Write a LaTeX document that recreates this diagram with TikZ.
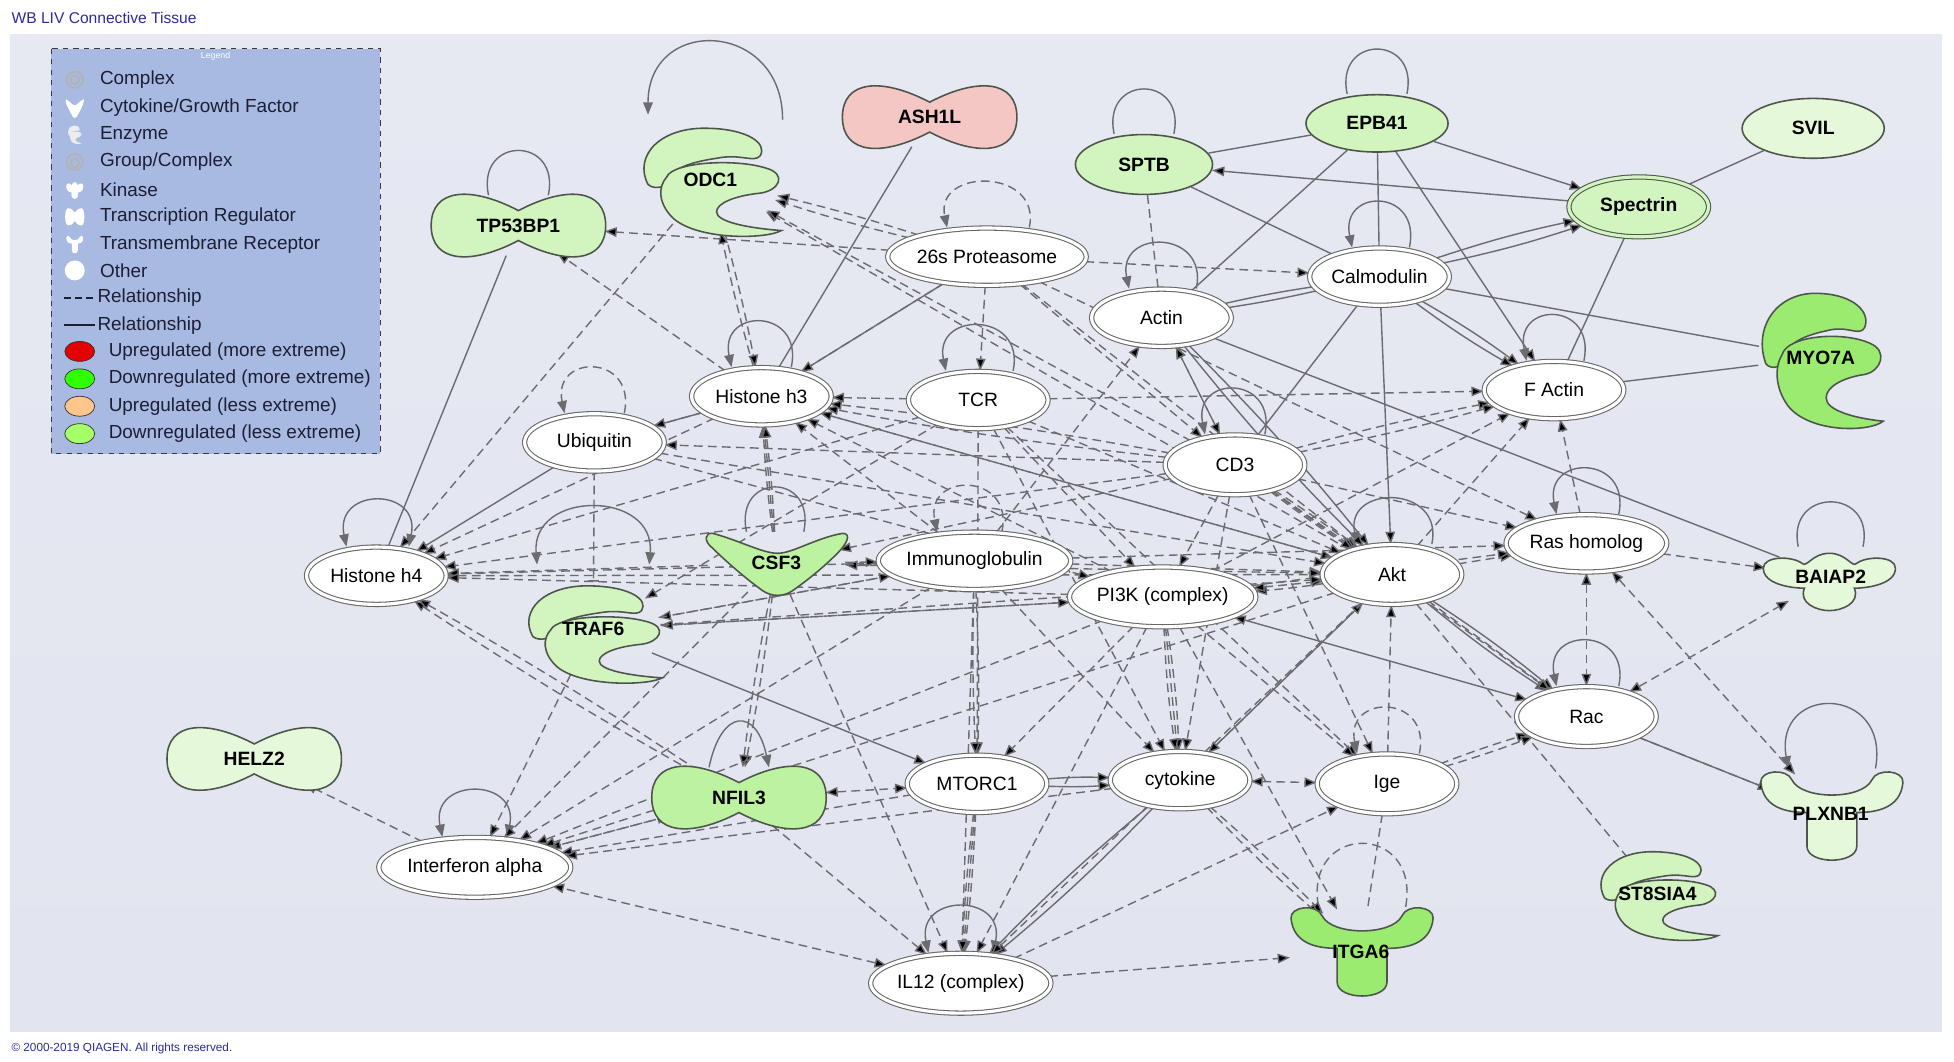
\documentclass[tikz,border=0pt]{standalone}
\usepackage{fontspec}
\setmainfont{Liberation Sans}
\usepackage{tikz}
\usetikzlibrary{shapes.geometric}
\usetikzlibrary{arrows.meta}
\usetikzlibrary{calc}

\definecolor{bgtop}{HTML}{E6E8F2}
\definecolor{bgmid}{HTML}{D3D8E8}
\definecolor{bgbot}{HTML}{E2E4EF}
\definecolor{edgegray}{HTML}{6C6C70}
\definecolor{outl}{HTML}{4E564C}
\definecolor{pinkup}{HTML}{F4C7C4}
\definecolor{lgreen}{HTML}{D2F4BF}
\definecolor{vlgreen}{HTML}{E5F9DA}
\definecolor{mgreen}{HTML}{BDF2A0}
\definecolor{bgreen}{HTML}{9BEB70}
\definecolor{legbg}{HTML}{A8BAE1}
\definecolor{legtext}{HTML}{1C1E36}
\definecolor{titleblue}{HTML}{2B2BA0}

\pgfdeclarelayer{back}
\pgfdeclarelayer{links}
\pgfsetlayers{back,links,main}

\tikzset{
  peanut/.pic={\path[pic actions] (-70,0) .. controls (-70,-30) and (-38,-32) .. (0,-12) .. controls (38,-32) and (70,-30) .. (70,0) .. controls (70,30) and (38,32) .. (0,12) .. controls (-38,32) and (-70,30) .. (-70,0) -- cycle;},
  enzyme/.pic={\path[pic actions] (-50,3) .. controls (-62,-20) and (-40,-44) .. (0,-42) .. controls (30,-41) and (46,-30) .. (40,-20) .. controls (35,-14) and (25,-22) .. (5,-18) .. controls (-15,-15) and (-30,-10) .. (-30,-3) .. controls (-32,5) and (-45,8) .. (-50,3) -- cycle;
    \path[pic actions] (-35,-3) .. controls (-30,-15) and (20,-18) .. (45,-10) .. controls (62,-5) and (55,8) .. (40,10) .. controls (20,12) and (5,18) .. (5,25) .. controls (5,33) and (30,38) .. (57,40) .. controls (45,47) and (-10,48) .. (-30,30) .. controls (-42,18) and (-42,5) .. (-35,-3) -- cycle;},
  cytok/.pic={\path[pic actions] (-52,-24) .. controls (-30,-18) and (-12,-8) .. (0,-8) .. controls (12,-8) and (30,-20) .. (52,-24) .. controls (60,-24) and (55,-15) .. (48,-8) .. controls (35,5) and (22,15) .. (12,22) .. controls (5,27) and (-5,27) .. (-12,22) .. controls (-22,15) and (-40,0) .. (-52,-12) .. controls (-60,-18) and (-58,-25) .. (-52,-24) -- cycle;},
  kinase/.pic={\path[pic actions] (-53,-8) .. controls (-53,-18) and (-30,-18) .. (-22,-12) .. controls (-18,-8) and (-14,-20) .. (0,-20) .. controls (14,-20) and (18,-8) .. (22,-12) .. controls (30,-18) and (53,-18) .. (53,-8) .. controls (53,5) and (30,8) .. (20,8) .. controls (25,20) and (10,26) .. (0,26) .. controls (-10,26) and (-25,20) .. (-20,8) .. controls (-30,8) and (-53,5) .. (-53,-8) -- cycle;},
  receptor/.pic={\path[pic actions] (-57,-26) .. controls (-58,-36) and (-36,-38) .. (-32,-28) .. controls (-24,-12) and (24,-12) .. (32,-28) .. controls (36,-38) and (58,-36) .. (57,-26) .. controls (55,-5) and (35,-2) .. (20,-2) -- (20,25) .. controls (20,40) and (-20,40) .. (-20,25) -- (-20,-2) .. controls (-35,-2) and (-55,-5) .. (-57,-26) -- cycle;},
}

\begin{document}
\begin{tikzpicture}[x=0.025cm, y=-0.025cm,
  every node/.style={font=\fontsize{11}{13}\selectfont},
  other/.style={ellipse, draw=gray!80!black, double=white, double distance=1.8pt, line width=0.6pt, fill=white, minimum width=2.8cm, minimum height=1.15cm, inner sep=0pt},
  gene/.style={ellipse, inner sep=0pt, font=\fontsize{11}{13}\selectfont\bfseries},
  plain/.style={ellipse, draw=outl, line width=0.9pt, inner sep=0pt, minimum width=2.8cm, minimum height=1.2cm, font=\fontsize{11}{13}\selectfont\bfseries},
  gshape/.style={draw=outl, line width=0.9pt},
  legitem/.style={anchor=west, inner sep=0pt, text=legtext, font=\fontsize{10.8}{12}\selectfont},
  rel/.style={draw=edgegray, line width=0.8pt},
  dsh/.style={rel, dash pattern=on 5pt off 3pt},
  tip/.style={-{Triangle[length=7pt,width=5.5pt]}},
  tips/.style={{Triangle[length=7pt,width=5.5pt]}-{Triangle[length=7pt,width=5.5pt]}},
  loopy/.style={to path={.. controls +(10,-48) and +(-10,-48) .. (\tikztotarget)}},
  bigloop/.style={to path={.. controls +(12,-68) and +(-12,-68) .. (\tikztotarget)}},
  ]
\useasboundingbox (0,0) rectangle (1568,852);
\begin{pgfonlayer}{back}
  \fill[white] (0,0) rectangle (1568,852);
  \shade[top color=bgtop, middle color=bgmid, bottom color=bgbot] (8,28) rectangle (1558,828);
\end{pgfonlayer}
\node[anchor=west, inner sep=0pt, text=titleblue, font=\fontsize{8.9}{10}\selectfont] (title) at (9,14) {WB LIV Connective Tissue};
\node[anchor=west, inner sep=0pt, text=titleblue, font=\fontsize{6.7}{8}\selectfont] (copy) at (9,841) {\textcopyright{} 2000-2019 QIAGEN. All rights reserved.};
%%%%%%%%%%%%%%% legend
\draw[dashed, draw=gray!45!black, fill=legbg] (41,39) rectangle (305,364);
\node[text=white, font=\fontsize{5}{6}\selectfont] (legtitle) at (173,45) {Legend};
\draw[gray!60, line width=1pt] (60,64) circle (6.5) (60,64) circle (3.5);
\pic[fill=white, xscale=.13, yscale=.3] at (60,87) {cytok};
\pic[fill=white!85!gray, xscale=.1, yscale=.17] at (60,108) {enzyme};
\draw[gray!60, line width=1pt] (60,130) circle (6.5) (60,131) circle (3.5);
\pic[fill=white, xscale=.13, yscale=.3] at (60,152) {kinase};
\pic[fill=white, xscale=.11, yscale=.28] at (60,174) {peanut};
\pic[fill=white, xscale=.12, yscale=.2] at (60,196) {receptor};
\fill[white] (60,217) circle (8);
\draw[legtext, line width=1pt, dash pattern=on 4pt off 2.5pt] (51,239) -- (76,239);
\draw[legtext, line width=1pt] (51,261) -- (76,261);
\draw[gray!40!black, fill=red!90!black] (64,282) ellipse (12 and 8);
\draw[gray!40!black, fill=green!75!lime] (64,304) ellipse (12 and 8);
\draw[gray!40!black, fill=orange!45] (64,326) ellipse (12 and 8);
\draw[gray!40!black, fill=green!45!lime!60] (64,348) ellipse (12 and 8);
\node[legitem] (lcomplex) at (80,64) {Complex};
\node[legitem] (lcyto) at (80,86) {Cytokine/Growth Factor};
\node[legitem] (lenz) at (80,108) {Enzyme};
\node[legitem] (lgroup) at (80,130) {Group/Complex};
\node[legitem] (lkin) at (80,152) {Kinase};
\node[legitem] (ltr) at (80,174) {Transcription Regulator};
\node[legitem] (ltm) at (80,196) {Transmembrane Receptor};
\node[legitem] (lother) at (80,217) {Other};
\node[legitem] (ldash) at (78,239) {Relationship};
\node[legitem] (lsolid) at (78,261) {Relationship};
\node[legitem] (lupm) at (87,282) {Upregulated (more extreme)};
\node[legitem] (ldownm) at (87,304) {Downregulated (more extreme)};
\node[legitem] (lupl) at (87,326) {Upregulated (less extreme)};
\node[legitem] (ldownl) at (87,348) {Downregulated (less extreme)};
%%%%%%%%%%%%%%% shaped molecules
\pic[gshape, fill=lgreen] at (416,181) {peanut};
\pic[gshape, fill=pinkup] at (746,94) {peanut};
\pic[gshape, fill=vlgreen] at (204,609) {peanut};
\pic[gshape, fill=mgreen] at (593,640) {peanut};
\pic[gshape, fill=lgreen] at (570,145) {enzyme};
\pic[gshape, fill=lgreen, xscale=.97, yscale=.9] at (476,508) {enzyme};
\pic[gshape, fill=bgreen, xscale=.88, yscale=1.25] at (1461,288) {enzyme};
\pic[gshape, fill=lgreen, xscale=.85, yscale=.82] at (1330,718) {enzyme};
\pic[gshape, fill=mgreen] at (624,452) {cytok};
\pic[gshape, fill=vlgreen] at (1468,464) {kinase};
\pic[gshape, fill=vlgreen] at (1470,654) {receptor};
\pic[gshape, fill=bgreen] at (1093,763) {receptor};
%%%%%%%%%%%%%%% nodes
\node[gene, minimum width=3.5cm, minimum height=1.2cm] (tp) at (416,181) {TP53BP1};
\node[gene, minimum width=3.5cm, minimum height=1.2cm] (ash) at (746,94) {ASH1L};
\node[gene, minimum width=3.5cm, minimum height=1.2cm] (helz) at (204,609) {HELZ2};
\node[gene, minimum width=3.5cm, minimum height=1.2cm] (nfil) at (593,640) {NFIL3};
\node[gene, minimum width=2.8cm, minimum height=2.1cm] (odc) at (570,144) {ODC1};
\node[gene, minimum width=2.7cm, minimum height=1.9cm] (traf) at (476,505) {TRAF6};
\node[gene, minimum width=2.5cm, minimum height=2.6cm] (myo) at (1461,287) {MYO7A};
\node[gene, minimum width=2.4cm, minimum height=1.75cm] (st) at (1330,717) {ST8SIA4};
\node[gene, minimum width=2.75cm, minimum height=1.25cm] (csf) at (623,452) {CSF3};
\node[gene, minimum width=2.7cm, minimum height=1.2cm] (baiap) at (1469,463) {BAIAP2};
\node[gene, minimum width=2.85cm, minimum height=1.8cm] (plx) at (1469,653) {PLXNB1};
\node[gene, minimum width=2.85cm, minimum height=1.8cm] (itga) at (1092,764) {ITGA6};
\node[plain, fill=lgreen, minimum width=2.75cm] (sptb) at (918,132) {SPTB};
\node[plain, fill=lgreen, minimum width=2.85cm, minimum height=1.15cm] (epb) at (1105,99) {EPB41};
\node[plain, fill=vlgreen, minimum width=2.85cm] (svil) at (1455,103) {SVIL};
\node[other, draw=outl, double=lgreen, fill=lgreen, minimum height=1.2cm, font=\fontsize{11}{13}\selectfont\bfseries] (spec) at (1315,166) {Spectrin};
\node[other, minimum width=3.9cm] (prot) at (792,206) {26s Proteasome};
\node[other] (calm) at (1107,222) {Calmodulin};
\node[other] (actin) at (932,255) {Actin};
\node[other] (hthree) at (611,318) {Histone h3};
\node[other] (tcr) at (785,321) {TCR};
\node[other] (factin) at (1247,313) {F Actin};
\node[other] (ubq) at (477,355) {Ubiquitin};
\node[other, minimum height=1.2cm] (cdthree) at (991,373) {CD3};
\node[other] (hfour) at (302,462) {Histone h4};
\node[other, minimum width=3.4cm] (ig) at (782,450) {Immunoglobulin};
\node[other, minimum width=3.45cm, minimum height=1.2cm] (pik) at (933,479) {PI3K (complex)};
\node[other, minimum height=1.2cm] (akt) at (1117,461) {Akt};
\node[other] (ras) at (1273,436) {Ras homolog};
\node[other, minimum height=1.2cm] (rac) at (1273,575) {Rac};
\node[other] (mtor) at (784,629) {MTORC1};
\node[other] (cyto) at (947,626) {cytokine};
\node[other, minimum height=1.2cm] (ige) at (1113,629) {Ige};
\node[other, minimum width=3.85cm, minimum height=1.2cm] (ifn) at (381,696) {Interferon alpha};
\node[other, minimum width=3.6cm, minimum height=1.2cm] (il) at (771,789) {IL12 (complex)};
%%%%%%%%%%%%%%% links
\begin{pgfonlayer}{links}
% self loops
\draw[rel] ([xshift=.6cm]tp.north) to[loopy] ([xshift=-.6cm]tp.north);
\draw[rel] ([xshift=.6cm]sptb.north) to[loopy] ([xshift=-.6cm]sptb.north);
\draw[rel] ([xshift=.6cm]epb.north) to[loopy] ([xshift=-.6cm]epb.north);
\draw[rel] ([xshift=.65cm]baiap.north) to[loopy] ([xshift=-.65cm]baiap.north);
\draw[rel,tip] ($(odc)+(58,-48)$) .. controls +(0,-80) and +(0,-80) .. ($(odc)+(-50,-52)$);
\draw[dsh,tip] ([xshift=.85cm]prot.north) to[loopy] ([xshift=-.8cm]prot.north);
\draw[rel,tip] ([xshift=.6cm]hthree.north) to[loopy] ([xshift=-.6cm]hthree.north);
\draw[rel,tip] ([xshift=.7cm]tcr.north) to[loopy] ([xshift=-.65cm]tcr.north);
\draw[rel,tip] ([xshift=.7cm]actin.north) to[loopy] ([xshift=-.65cm]actin.north);
\draw[rel,tip] ([xshift=.6cm]calm.north) to[loopy] ([xshift=-.55cm]calm.north);
\draw[rel,tip] ([xshift=.6cm]cdthree.north) to[loopy] ([xshift=-.6cm]cdthree.north);
\draw[rel,tip] ([xshift=.6cm]factin.north) to[loopy] ([xshift=-.55cm]factin.north);
\draw[dsh,tip] ([xshift=.6cm]ubq.north) to[loopy] ([xshift=-.6cm]ubq.north);
\draw[dsh,tip] ([xshift=.55cm]ig.north) to[loopy] ([xshift=-.75cm]ig.north);
\draw[rel,tip] ([xshift=.8cm]akt.north) to[loopy] ([xshift=-.7cm]akt.north);
\draw[rel,tip] ([xshift=.65cm]ras.north) to[loopy] ([xshift=-.6cm]ras.north);
\draw[rel,tip] ([xshift=.65cm]rac.north) to[loopy] ([xshift=-.6cm]rac.north);
\draw[rel,tips] ([xshift=.65cm]hfour.north) to[loopy] ([xshift=-.6cm]hfour.north);
\draw[rel] ([xshift=.55cm]csf.north) to[loopy] ([xshift=-.6cm]csf.north);
\draw[rel,tip] ([xshift=-.6cm]nfil.north) to[loopy] ([xshift=.6cm]nfil.north);
\draw[rel,tips] ([xshift=.65cm]ifn.north) to[loopy] ([xshift=-.65cm]ifn.north);
\draw[rel,tips] ([xshift=.65cm]il.north) to[loopy] ([xshift=-.65cm]il.north);
\draw[dsh,tip] ([xshift=.65cm]ige.north) to[loopy] ([xshift=-.6cm]ige.north);
\draw[dsh] ([xshift=.9cm]itga.north) to[bigloop] ([xshift=-.85cm]itga.north);
\draw[rel,tip] ([xshift=.9cm]plx.north) to[bigloop] ([xshift=-.85cm]plx.north);
\draw[rel,tips] ($(traf)+(45,-52)$) .. controls +(5,-60) and +(-5,-60) .. ($(traf)+(-45,-52)$);
% solid relationships
\path[rel] (epb) edge (sptb) edge (actin) edge (calm) (svil) edge (spec) (sptb) edge (calm);
\path[rel,tip] (epb) edge (spec) edge (factin) (spec) edge (sptb);
\path[rel,tip] (calm) edge[bend left=3] (spec) edge[bend right=3] (spec) edge[bend left=3] (factin) edge[bend right=3] (factin) edge (akt);
\path[rel] (calm) edge[bend left=2] (actin) edge[bend right=2] (actin) edge (myo) edge (cdthree);
\path[rel] (spec) edge (factin) (factin) edge (myo) (actin) edge (baiap);
\path[rel,tip] (actin) edge[bend left=3] (akt) edge[bend right=3] (akt);
\path[rel] (ash) edge (hthree) (tp) edge (hfour) (hthree) edge (ubq) (prot) edge (hthree);
\path[rel,tip] (ubq) edge (hfour) (traf) edge (mtor) (akt) edge[bend left=3] (rac) edge[bend right=3] (rac) (rac) edge (plx);
\path[rel,tip] (cyto) edge (akt) edge[bend left=3] (il) edge[bend right=3] (il) (mtor) edge[bend left=3] (cyto) edge[bend right=3] (cyto);
\path[rel,tips] (pik) edge (rac);
% dashed relationships
\path[dsh,tip] (prot) edge (tp) edge[bend left=2] (odc) edge[bend right=2] (odc) edge (calm) edge (hthree) edge (tcr) edge (cdthree) edge (akt) edge (ras);
\path[dsh,tip] (odc) edge (hfour) edge[bend left=2] (hthree) (hthree) edge[bend left=2] (odc) edge (tp) edge (ubq) edge (hfour) edge (akt);
\path[dsh,tip] (akt) edge (odc) edge (hthree) edge (hfour) edge (factin) edge (ras) edge[bend left=2] (pik) edge (cyto) edge (il) edge (ifn) edge (rac);
\path[dsh] (akt) edge (st) (sptb) edge (actin) (ige) edge (itga);
\path[dsh,tip] (cdthree) edge (odc) edge[bend left=2] (hthree) edge[bend right=2] (hthree) edge (ubq) edge (hfour) edge[bend left=2] (factin) edge[bend right=2] (factin) edge (actin) edge (ras) edge (rac);
\path[dsh,tip] (cdthree) edge[bend left=2] (akt) edge (akt) edge[bend right=2] (akt) edge (cyto) edge (ige) edge (pik) edge (csf);
\path[dsh,tips] (actin) edge (cdthree);
\path[dsh,tip] (tcr) edge (hthree) edge (hfour) edge (factin) edge (akt) edge (cyto) edge (ige) edge (mtor) edge (traf) edge (pik);
\path[dsh,tip] (ubq) edge (akt) edge (pik);
\path[dsh,-{Bar[width=6pt]}] (ubq) edge (traf);
\path[dsh,tip] (ig) edge (hthree) edge (hfour) edge (actin) edge (ras) edge (akt) edge (cyto) edge[bend left=2] (mtor) edge[bend right=2] (mtor) edge (il) edge (ifn) edge (traf) edge[bend left=2] (csf);
\path[dsh,tip] (csf) edge (ig) edge[bend left=2] (hthree) edge (hthree) edge[bend right=2] (hthree) edge (hfour) edge[bend left=2] (nfil) edge[bend right=2] (nfil) edge (il) edge (ifn) edge (akt);
\path[dsh,tip] (pik) edge (hthree) edge (hfour) edge (factin) edge (traf) edge (ras) edge (cyto) edge[bend left=3] (cyto) edge[bend right=3] (cyto) edge (ige) edge (mtor) edge (il) edge (itga) edge (ifn);
\path[dsh,tips] (pik) edge (akt);
\path[dsh,tip] (traf) edge (ig) edge (pik) edge (akt) edge (ifn);
\path[dsh,tip] (nfil) edge[bend left=2] (hfour) edge[bend right=2] (hfour) edge (il) edge (ifn);
\path[dsh,tips] (nfil) edge (mtor);
\path[dsh,tip] (mtor) edge[bend left=2] (il) edge (il) edge[bend right=2] (il) edge (ifn);
\path[dsh,tip] (cyto) edge (ifn) edge[bend left=2] (itga) edge[bend right=2] (itga);
\path[dsh,tips] (cyto) edge (ige) (il) edge (ifn) (ras) edge (rac) (rac) edge (baiap) (ras) edge (plx);
\path[dsh,tip] (ige) edge (akt) edge[bend left=2] (rac) edge[bend right=2] (rac) (il) edge (ige) edge (itga) (ifn) edge (helz) edge (nfil) (ras) edge (factin) edge (baiap) (rac) edge (plx);
\end{pgfonlayer}
\end{tikzpicture}
\end{document}
